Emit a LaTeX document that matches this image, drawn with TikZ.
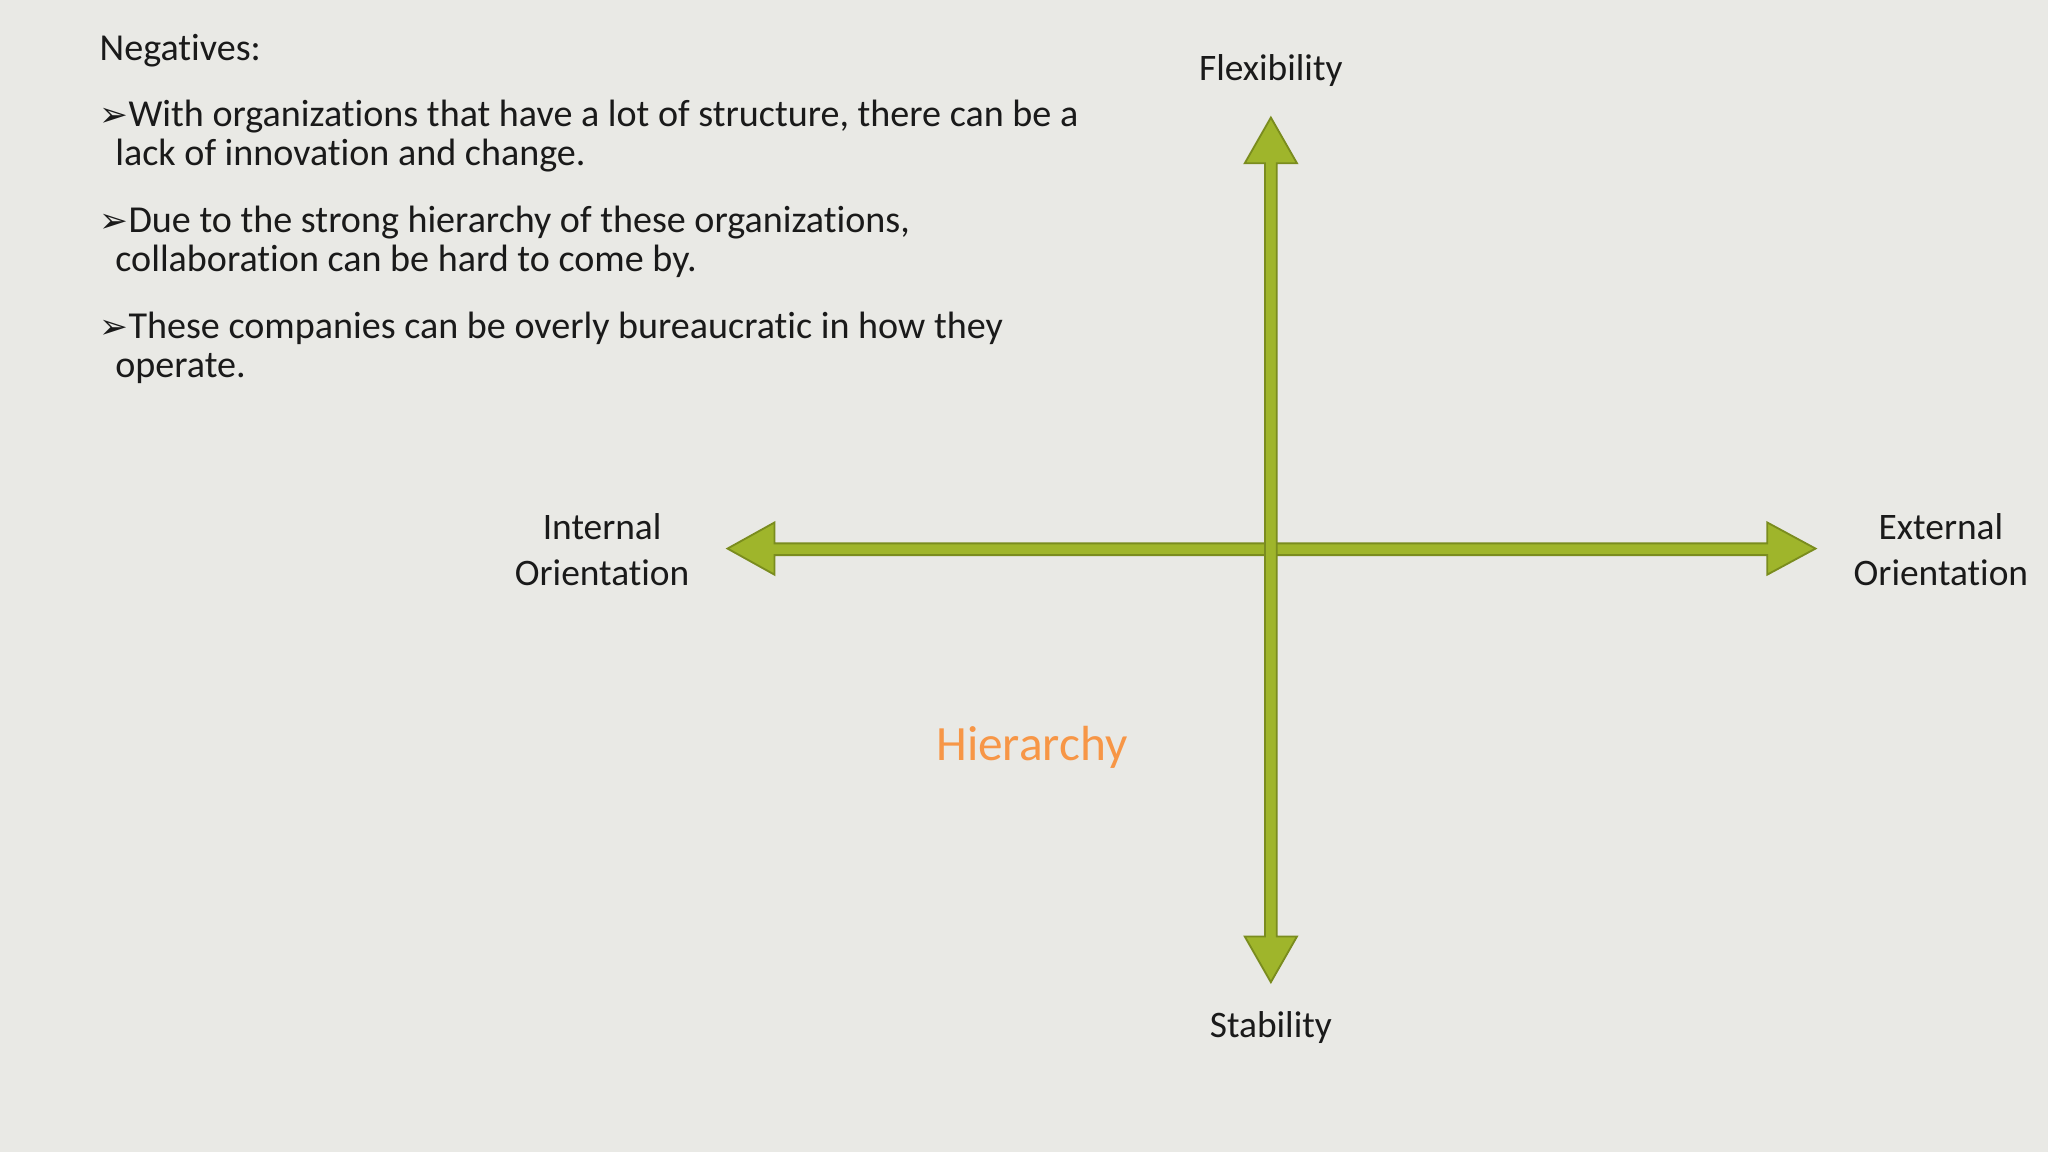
\documentclass[tikz,border=0pt]{standalone}
\usepackage{fontspec}
\setmainfont{Carlito}[Ligatures={NoCommon}]
\newfontfamily\sym{DejaVu Sans}
\definecolor{bg}{HTML}{E9E9E5}
\definecolor{arrfill}{HTML}{9FB52B}
\definecolor{arrline}{HTML}{7A8C1E}
\definecolor{hier}{HTML}{F79646}
\definecolor{txt}{HTML}{1A1A1A}
\begin{document}
\begin{tikzpicture}[x=0.02cm,y=-0.02cm,
  t/.style={anchor=base west,inner sep=0,font=\fontsize{16.6}{19}\selectfont,text=txt},
  lab/.style={inner sep=0,font=\fontsize{16.3}{20}\selectfont,text=txt,align=center},
  arr/.style={fill=arrfill,draw=arrline,line width=0.8pt,line join=miter}]
\fill[bg] (0,0) rectangle (1568,882);
\useasboundingbox (0,0) rectangle (1568,882);
\node[t] (n0) at (76,46) {Negatives:};
\node[t] (b1a) at (76,97) {{\sym\fontsize{15}{17}\selectfont ➢}With organizations that have a lot of structure, there can be a};
\node[t] (b1b) at (88,127) {lack of innovation and change.};
\node[t] (b2a) at (76,178) {{\sym\fontsize{15}{17}\selectfont ➢}Due to the strong hierarchy of these organizations,};
\node[t] (b2b) at (88,208) {collaboration can be hard to come by.};
\node[t] (b3a) at (76,259) {{\sym\fontsize{15}{17}\selectfont ➢}These companies can be overly bureaucratic in how they};
\node[t] (b3b) at (88,289) {operate.};
% horizontal arrow
\draw[arr] (557,420) -- (593,400) -- (593,416) -- (1353,416) -- (1353,400) -- (1390,420)
  -- (1353,440) -- (1353,425) -- (593,425) -- (593,440) -- cycle;
% vertical arrow
\draw[arr] (973,90) -- (993,125) -- (977.5,125) -- (977.5,717) -- (993,717) -- (973,752)
  -- (953,717) -- (968.5,717) -- (968.5,125) -- (953,125) -- cycle;
\node[lab] (flex) at (973,54) {Flexibility};
\node[lab] (stab) at (973,787) {Stability};
\node[lab] (int) at (461,421) {Internal\\Orientation};
\node[lab] (ext) at (1486,421) {External\\Orientation};
\node[inner sep=0,text=hier,font=\fontsize{21.5}{25}\selectfont] (h) at (790,572) {Hierarchy};
\end{tikzpicture}
\end{document}
